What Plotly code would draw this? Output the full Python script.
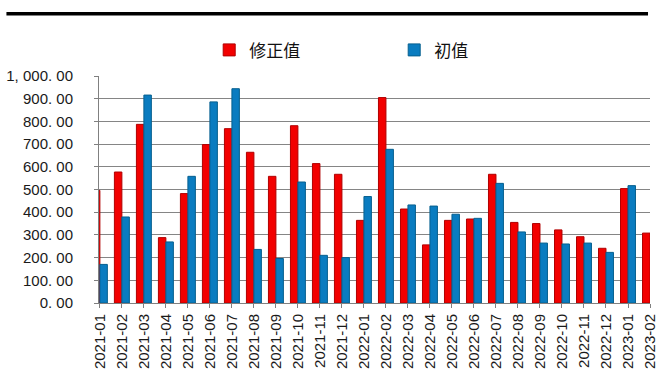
import plotly.graph_objects as go

# Months on the category axis
months = [
    "2021-01", "2021-02", "2021-03", "2021-04", "2021-05", "2021-06",
    "2021-07", "2021-08", "2021-09", "2021-10", "2021-11", "2021-12",
    "2022-01", "2022-02", "2022-03", "2022-04", "2022-05", "2022-06",
    "2022-07", "2022-08", "2022-09", "2022-10", "2022-11", "2022-12",
    "2023-01", "2023-02",
]

# Revised values (修正值)
revised = [
    496, 577, 787, 288, 482, 698, 768, 664, 558, 781, 614, 567,
    364, 905, 414, 256, 364, 370, 567, 355, 350, 322, 292, 241,
    504, 308,
]

# Initial values (初值); the latest month has no initial figure yet
initial = [
    170, 379, 916, 269, 558, 886, 944, 236, 196, 533, 210, 200,
    469, 677, 432, 427, 391, 373, 527, 313, 264, 260, 264, 223,
    517, None,
]

# Y-axis ticks and their labels
y_ticks = [0, 100, 200, 300, 400, 500, 600, 700, 800, 900, 1000]
y_tick_labels = [
    "0. 00", "100. 00", "200. 00", "300. 00", "400. 00", "500. 00",
    "600. 00", "700. 00", "800. 00", "900. 00", "1, 000. 00",
]

RED, RED_EDGE = "#F20000", "#B00000"
BLUE, BLUE_EDGE = "#0A7CC0", "#07608F"

fig = go.Figure()
fig.add_trace(go.Bar(
    name="修正值", x=months, y=revised,
    marker=dict(color=RED, line=dict(color=RED_EDGE, width=1)),
))
fig.add_trace(go.Bar(
    name="初值", x=months, y=initial,
    marker=dict(color=BLUE, line=dict(color=BLUE_EDGE, width=1)),
))

fig.update_layout(
    width=662, height=380,
    margin=dict(l=99, r=4, t=76, b=77),
    paper_bgcolor="white", plot_bgcolor="white",
    barmode="group", bargap=0.32, bargroupgap=0,
    font=dict(family="Liberation Sans, Arial, sans-serif", color="#1a1a1a"),
    legend=dict(
        orientation="h", x=0.2, xanchor="left", y=1.113, yanchor="middle",
        font=dict(family="Noto Sans CJK SC", size=17, color="#111"),
        entrywidth=140, entrywidthmode="pixels",
        bgcolor="rgba(0,0,0,0)", itemclick=False,
    ),
    showlegend=True,
)

fig.update_xaxes(
    type="category", range=[-0.04, 25.0],
    tickangle=-90, tickfont=dict(size=15, color="#1a1a1a"),
    ticks="outside", ticklen=4, tickcolor="#808080",
    showline=True, linecolor="#808080", linewidth=1,
    showgrid=False,
)
fig.update_yaxes(
    range=[0, 1000], tickvals=y_ticks, ticktext=y_tick_labels,
    tickfont=dict(size=15, color="#1a1a1a"),
    ticks="outside", ticklen=4, tickcolor="#808080",
    ticklabelstandoff=18,
    showline=True, linecolor="#808080", linewidth=1,
    showgrid=True, gridcolor="#858585", gridwidth=1,
    zeroline=False,
)

# Heavy rule across the top of the figure
fig.add_shape(
    type="line", xref="paper", yref="paper",
    x0=-0.168, x1=0.9964, y0=1.2746, y1=1.2746,
    line=dict(color="black", width=3.5),
)

fig.write_html("out.html")
